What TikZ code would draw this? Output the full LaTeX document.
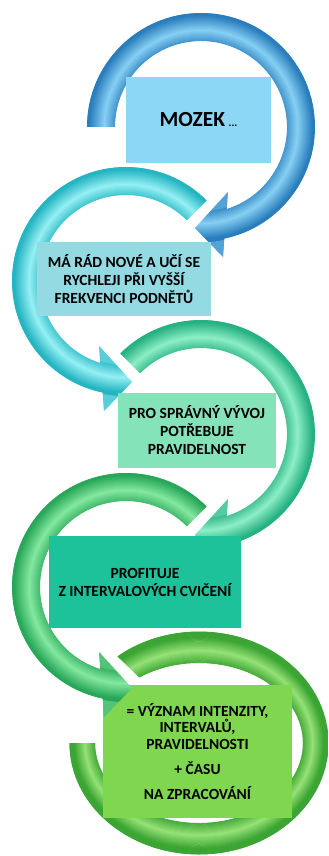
\documentclass[tikz,border=0pt]{standalone}
\usepackage{fontspec}
\setmainfont{Carlito}
\definecolor{r1d}{HTML}{1F74B6}
\definecolor{r1l}{HTML}{86D0F4}
\definecolor{r2d}{HTML}{17ADBC}
\definecolor{r2l}{HTML}{95F0F4}
\definecolor{r3d}{HTML}{1AAA7A}
\definecolor{r3l}{HTML}{8DEEC6}
\definecolor{r4d}{HTML}{1EA050}
\definecolor{r4l}{HTML}{84E8A0}
\definecolor{r5d}{HTML}{319E2C}
\definecolor{r5l}{HTML}{96E276}
\definecolor{b1c}{HTML}{8CD6F6}
\definecolor{b2c}{HTML}{93DAE3}
\definecolor{b3c}{HTML}{85E3BA}
\definecolor{b4c}{HTML}{1EC29A}
\definecolor{b5c}{HTML}{7FD64F}
\tikzset{
  txtbox/.style={rectangle, inner sep=0pt, align=center, text=black,
    font=\bfseries\fontsize{15.5}{18}\selectfont},
}
% #1 centre, #2 xscale, #3 tail angle, #4 dark, #5 light
\newcommand{\ringarrow}[5]{%
  \begin{scope}[shift={#1}, xscale=#2]
    \begin{scope}
      \clip (#3:114) arc[start angle=#3, end angle=438.2, radius=114]
        -- (22,130) -- (-6,101) -- (27,65) -- (432.6:86)
        arc[start angle=432.6, end angle=#3, radius=86] -- cycle;
      \foreach \r in {62,...,138}{%
        \pgfmathtruncatemacro\p{(\r<85 || \r>115) ? 50 : max(10,100-abs(\r-97)*6)}%
        \draw[line width=1.5pt, #5!\p!#4] (0,0) circle[radius=\r];
      }
    \end{scope}
  \end{scope}}
\begin{document}
\begin{tikzpicture}[x=1pt, y=-1pt]
  \useasboundingbox (0,0) rectangle (329,856);
  \fill[white] (0,0) rectangle (329,856);

  % ring 1 and box 1
  \ringarrow{(201,127)}{1}{180}{r1d}{r1l}
  \node[txtbox, fill=b1c, minimum width=145pt, minimum height=86pt] (b1) at (198.5,120)
    {{\fontsize{21.5}{24}\selectfont MOZEK} {\fontsize{11}{12}\selectfont ...}};

  % ring 2 and box 2
  \ringarrow{(126,281)}{-1}{225}{r2d}{r2l}
  \node[txtbox, fill=b2c, minimum width=174pt, minimum height=74pt] (b2) at (124,279)
    {MÁ RÁD NOVÉ A UČÍ SE\\RYCHLEJI PŘI VYŠŠÍ\\FREKVENCI PODNĚTŮ};

  % ring 3 and box 3
  \ringarrow{(201,434)}{1}{225}{r3d}{r3l}
  \node[txtbox, fill=b3c, minimum width=158pt, minimum height=75pt] (b3) at (197,430.5)
    {PRO SPRÁVNÝ VÝVOJ\\POTŘEBUJE\\PRAVIDELNOST};

  % ring 5 (ellipse, no head) and box 5
  \begin{scope}[shift={(199,743)}]
    \begin{scope}
      \clip (180:129.5 and 111.5) arc[start angle=180, end angle=-129, x radius=129.5, y radius=111.5]
        -- (-125:104 and 80) arc[start angle=-125, end angle=180, x radius=104, y radius=80] -- cycle;
      \foreach \k in {-3,...,33}{%
        \pgfmathsetmacro\rx{104+\k*25.5/30}%
        \pgfmathsetmacro\ry{80+\k*31.5/30}%
        \pgfmathtruncatemacro\p{max(10,100-abs(\k/30-0.4)*210)}%
        \draw[line width=1.5pt, r5l!\p!r5d] (0,0) ellipse[x radius=\rx, y radius=\ry];
      }
    \end{scope}
  \end{scope}
  \node[txtbox, fill=b5c, minimum width=189pt, minimum height=133pt,
        font=\bfseries\fontsize{15.5}{16.5}\selectfont] (b5) at (197.5,751.5)
    {= VÝZNAM INTENZITY,\\INTERVALŮ,\\PRAVIDELNOSTI\\[8.5pt]+ ČASU\\[8.5pt]NA ZPRACOVÁNÍ};

  % ring 4 and box 4
  \ringarrow{(126,587)}{-1}{225}{r4d}{r4l}
  \node[txtbox, fill=b4c, minimum width=192pt, minimum height=92pt] (b4) at (145,582)
    {PROFITUJE\\Z INTERVALOVÝCH CVIČENÍ};
\end{tikzpicture}
\end{document}
